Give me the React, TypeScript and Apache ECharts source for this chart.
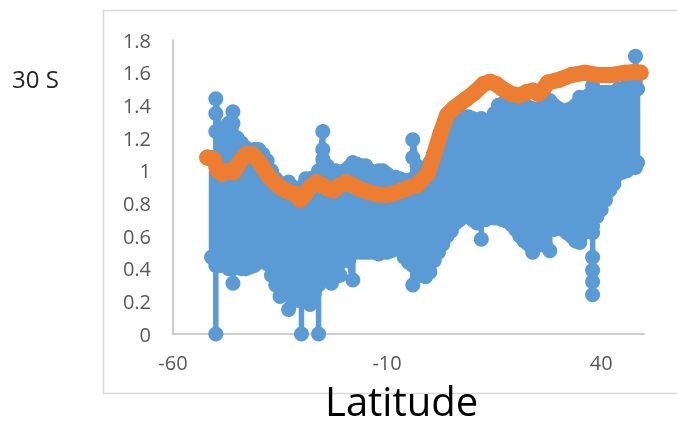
import React, { useEffect, useRef } from "react";
import * as echarts from "echarts";

const xTickLabels = [-60, -10, 40];
const yMin = 0;
const yMax = 1.8;
const yStep = 0.2;

// Blue series: latitude columns, each with the values recorded at that latitude (top to bottom)
const blueLat = [
  -51, -50, -49, -48, -47, -46, -45, -44, -43, -42, -41, -40, -39, -38, -37, -36, -35, -34, -33, -32,
  -31, -30, -29, -28, -27, -26, -25, -24, -23, -22, -21, -20, -19, -18, -17, -16, -15, -14, -13, -12,
  -11, -10, -9, -8, -7, -6, -5, -4, -3, -2, -1, 0, 1, 2, 3, 4, 5, 6, 7, 8,
  9, 10, 11, 12, 13, 14, 15, 16, 17, 18, 19, 20, 21, 22, 23, 24, 25, 26, 27, 28,
  29, 30, 31, 32, 33, 34, 35, 36, 37, 38, 39, 40, 41, 42, 43, 44, 45, 46, 47, 48, 48.5,
];
const blueCols = [
  [1.08, 0.47], [1.44, 1.35, 1.24, 0.45, 0.0, 0.42], [1.25, 0.42], [1.22, 0.44], [1.29, 0.4],
  [1.36, 1.29, 1.15, 0.31, 0.4], [1.2, 0.42], [1.17, 0.4], [1.14, 0.4], [1.12, 0.41],
  [1.13, 0.42], [1.13, 0.44], [1.1, 0.46], [1.06, 0.43], [1.0, 0.36],
  [0.95, 0.3], [0.92, 0.23], [0.92, 0.28], [0.93, 0.15], [0.9, 0.2],
  [0.88, 0.22], [0.9, 0.0, 0.2], [0.95, 0.21], [0.95, 0.18], [0.96, 0.25],
  [1.0, 0.0, 0.3], [1.24, 1.13, 1.07, 0.36], [1.03, 0.36], [1.0, 0.31], [1.0, 0.35],
  [0.98, 0.36], [1.0, 0.45], [1.02, 0.45], [1.05, 0.33], [1.04, 0.5],
  [1.03, 0.5], [1.03, 0.5], [1.0, 0.5], [0.98, 0.5], [1.0, 0.49],
  [1.0, 0.5], [0.98, 0.5], [0.96, 0.51], [0.96, 0.52], [0.95, 0.52],
  [0.94, 0.47], [0.94, 0.44], [1.19, 1.08, 0.95, 0.3, 0.42], [1.03, 0.4], [1.0, 0.36],
  [1.0, 0.35], [1.05, 0.38], [1.1, 0.45], [1.15, 0.5], [1.2, 0.55],
  [1.25, 0.6], [1.27, 0.63], [1.3, 0.68], [1.32, 0.7], [1.33, 0.73],
  [1.33, 0.72], [1.32, 0.7], [1.3, 0.68], [1.32, 0.58, 0.72], [1.3, 0.7],
  [1.3, 0.72], [1.35, 0.71], [1.4, 0.71], [1.41, 0.7], [1.4, 0.69],
  [1.38, 0.67], [1.41, 0.64], [1.39, 0.6], [1.37, 0.57], [1.39, 0.55],
  [1.38, 0.5], [1.35, 0.54], [1.38, 0.57], [1.41, 0.54], [1.43, 0.51],
  [1.4, 0.64], [1.38, 0.66], [1.36, 0.64], [1.37, 0.62], [1.38, 0.6],
  [1.4, 0.57], [1.45, 0.56], [1.44, 0.62], [1.46, 0.64], [1.52, 1.4, 0.62, 0.47, 0.39, 0.32, 0.24, 0.66],
  [1.45, 0.72], [1.48, 0.76], [1.48, 0.82], [1.48, 0.88], [1.47, 0.92],
  [1.5, 0.98], [1.5, 0.99], [1.52, 1.0], [1.53, 1.02], [1.7, 1.55, 1.02], [1.5, 1.05],
];

// Orange series (smoothed profile)
const orangeLat = [
  -52, -50.5, -49.5, -48.5, -47, -45.8, -44.5, -43, -41.5, -40.3, -39, -37.5, -36, -34.5, -33, -31.5,
  -30.3, -29, -28, -26.5, -25.2, -23.8, -22.5, -21, -19.5, -18, -16.5, -14.5, -12.5, -10.5, -8.5, -6.5,
  -4.5, -3, -2, -0.5, 1, 2.5, 4, 5.5, 7, 8.5, 10.5, 12.5, 14, 15.5, 17, 19, 21, 22.5, 24, 25.3, 26.5,
  27.6, 30, 33, 36.3, 39.3, 42.3, 45.6, 47.9, 49.2,
];
const orangeVal = [
  1.08, 1.07, 1.0, 0.98, 1.0, 0.99, 1.05, 1.1, 1.1, 1.07, 1.02, 0.96, 0.92, 0.89, 0.87, 0.86,
  0.82, 0.86, 0.9, 0.93, 0.91, 0.89, 0.88, 0.91, 0.93, 0.91, 0.89, 0.87, 0.855, 0.85, 0.86, 0.88,
  0.9, 0.91, 0.94, 0.98, 1.1, 1.23, 1.34, 1.38, 1.41, 1.44, 1.48, 1.53, 1.545, 1.53, 1.5, 1.47, 1.46, 1.48, 1.49, 1.47, 1.5,
  1.54, 1.555, 1.585, 1.6, 1.585, 1.585, 1.6, 1.605, 1.6,
];

const BLUE = "#5B9BD5";
const ORANGE = "#ED7D31";
const FONT = "Open Sans";

export default function App() {
  const ref = useRef<HTMLDivElement>(null);
  useEffect(() => {
    const chart = echarts.init(ref.current!, null, { renderer: "svg" });
    // Serpentine drawing order: alternate columns are traversed bottom-up so the line fills the band
    const blueData: number[][] = [];
    blueLat.forEach((lat, i) => {
      const col = i % 2 === 0 ? blueCols[i] : [...blueCols[i]].reverse();
      col.forEach((v) => blueData.push([lat, v]));
    });
    const orangeData = orangeLat.map((lat, i) => [lat, orangeVal[i]]);
    chart.setOption({
      animation: false,
      grid: { left: 173, top: 40, right: 33, bottom: 87 },
      xAxis: {
        type: "value",
        min: -60,
        max: 50,
        axisLine: { show: true, onZero: false, lineStyle: { color: "#bfbfbf", width: 1.5 } },
        axisTick: { show: false },
        splitLine: { show: false },
        axisLabel: {
          customValues: xTickLabels,
          color: "#595959",
          fontSize: 20,
          lineHeight: 20,
          fontFamily: FONT,
          margin: 18,
        },
      },
      yAxis: {
        type: "value",
        min: yMin,
        max: yMax,
        interval: yStep,
        axisLine: { show: true, onZero: false, lineStyle: { color: "#bfbfbf", width: 1.5 } },
        axisTick: { show: false },
        splitLine: { show: false },
        axisLabel: { color: "#595959", fontSize: 20, fontFamily: FONT, margin: 22 },
      },
      series: [
        {
          type: "line",
          data: blueData,
          symbol: "circle",
          symbolSize: 15,
          showAllSymbol: true,
          clip: false,
          lineStyle: { color: BLUE, width: 5.5, join: "round" },
          itemStyle: { color: BLUE },
          z: 2,
        },
        {
          type: "line",
          data: orangeData,
          symbol: "circle",
          symbolSize: 16,
          showAllSymbol: true,
          clip: false,
          lineStyle: { color: ORANGE, width: 16, cap: "round", join: "round" },
          itemStyle: { color: ORANGE },
          z: 3,
        },
      ],
      graphic: [
        {
          type: "rect",
          shape: { x: 103.5, y: 10.5, width: 600, height: 383 },
          style: { fill: "none", stroke: "#d9d9d9", lineWidth: 1.5 },
          z: -1,
        },
        {
          type: "text",
          x: 12,
          y: 78,
          style: { text: "30 S", fontSize: 24, fontFamily: FONT, fill: "#262626", align: "left", verticalAlign: "middle" },
        },
        {
          type: "text",
          x: 325,
          y: 400,
          style: {
            text: "Latitude",
            fontSize: 40,
            lineHeight: 34,
            fontFamily: FONT,
            fill: "#000",
            align: "left",
            verticalAlign: "middle",
          },
        },
      ],
    });
    return () => chart.dispose();
  }, []);
  return <div ref={ref} style={{ position: "fixed", left: 0, top: 0, width: 677, height: 421 }} />;
}
